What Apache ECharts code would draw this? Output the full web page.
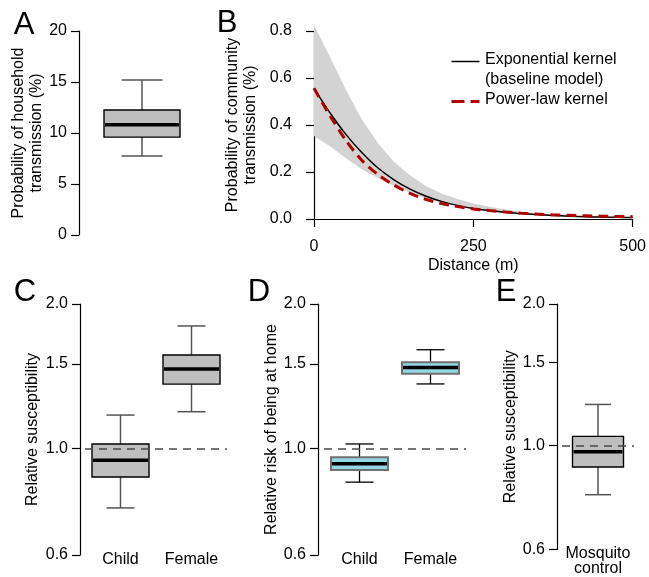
<!DOCTYPE html>
<html><head><meta charset="utf-8">
<script src="https://cdn.jsdelivr.net/npm/echarts@6/dist/echarts.min.js"></script>
<style>html,body{margin:0;padding:0;background:#fff}#c{width:649px;height:577px}</style>
</head><body><div id="c"></div>
<script>
// ---- Panel A: household transmission (box: min, q1, median, q3, max)
const householdCategory = ['household'];
const householdBox = [[7.75, 9.6, 10.8, 12.25, 15.2]];
// ---- Panel B: community transmission vs distance
const distance    = [0, 25, 50, 75, 100, 125, 150, 175, 200, 225, 250, 275, 300, 325, 350, 375, 400, 425, 450, 475, 500];
const expKernel   = [0.556, 0.452, 0.360, 0.283, 0.218, 0.168, 0.128, 0.098, 0.075, 0.058, 0.045, 0.036, 0.029, 0.023, 0.019, 0.015, 0.012, 0.010, 0.008, 0.007, 0.006];
const powerKernel = [0.556, 0.440, 0.335, 0.250, 0.190, 0.145, 0.110, 0.084, 0.066, 0.053, 0.043, 0.036, 0.030, 0.025, 0.021, 0.018, 0.016, 0.014, 0.012, 0.011, 0.010];
const bandLower   = [0.353, 0.310, 0.258, 0.212, 0.174, 0.141, 0.112, 0.088, 0.069, 0.054, 0.042, 0.033, 0.026, 0.020, 0.016, 0.013, 0.010, 0.008, 0.006, 0.005, 0.004];
const bandUpper   = [0.826, 0.690, 0.550, 0.425, 0.325, 0.245, 0.187, 0.142, 0.108, 0.085, 0.066, 0.052, 0.040, 0.031, 0.024, 0.019, 0.015, 0.012, 0.010, 0.008, 0.007];
// ---- Panel C: relative susceptibility
const susCategories = ['Child', 'Female'];
const susBoxes = [[0.752, 0.872, 0.945, 1.022, 1.174], [1.193, 1.362, 1.464, 1.566, 1.800]];
// ---- Panel D: relative risk of being at home
const homeCategories = ['Child', 'Female'];
const homeBoxes = [[0.851, 0.902, 0.930, 0.959, 1.022], [1.363, 1.432, 1.474, 1.512, 1.606]];
// ---- Panel E: mosquito control
const mosqCategories = ['Mosquito\ncontrol'];
const mosqBoxes = [[0.785, 0.899, 0.969, 1.045, 1.222]];
// ---- tick labels
const householdTicks = [0, 5, 10, 15, 20];
const probTicks = [0, 0.2, 0.4, 0.6, 0.8];
const distTicks = [0, 250, 500];
const logTicks = [0.6, 1.0, 1.5, 2.0];

const FONT = "'Liberation Sans', Arial, Helvetica, sans-serif";
const AX = { color: '#000', width: 1.2 };

function boxSeries(xi, yi, boxes, st, refLine) {
  const s = {
    type: 'custom', xAxisIndex: xi, yAxisIndex: yi, silent: true,
    data: boxes.map((b, i) => [i].concat(b)),
    encode: { x: 0, y: [1, 2, 3, 4, 5] },
    renderItem: function (params, api) {
      const c = api.value(0);
      const pMin = api.coord([c, api.value(1)]);
      const pQ1 = api.coord([c, api.value(2)]);
      const pMed = api.coord([c, api.value(3)]);
      const pQ3 = api.coord([c, api.value(4)]);
      const pMax = api.coord([c, api.value(5)]);
      const x = pMed[0], bw = st.box, cw = st.cap;
      const wS = { stroke: st.whisker, lineWidth: st.whiskerW };
      return { type: 'group', children: [
        { type: 'line', shape: { x1: x, y1: pMax[1], x2: x, y2: pQ3[1] }, style: wS },
        { type: 'line', shape: { x1: x, y1: pQ1[1], x2: x, y2: pMin[1] }, style: wS },
        { type: 'line', shape: { x1: x - cw / 2, y1: pMax[1], x2: x + cw / 2, y2: pMax[1] }, style: wS },
        { type: 'line', shape: { x1: x - cw / 2, y1: pMin[1], x2: x + cw / 2, y2: pMin[1] }, style: wS },
        { type: 'rect', shape: { x: x - bw / 2, y: pQ3[1], width: bw, height: pQ1[1] - pQ3[1] },
          style: { fill: st.fill, stroke: st.border, lineWidth: st.borderW } },
        { type: 'line', shape: { x1: x - bw / 2 + 1, y1: pMed[1], x2: x + bw / 2 - 1, y2: pMed[1] },
          style: { stroke: '#000', lineWidth: 3.5 } }
      ] };
    }
  };
  if (refLine) {
    s.markLine = { silent: true, symbol: 'none', label: { show: false },
      lineStyle: { type: [8, 6], color: '#4a4a4a', width: 1.7 }, data: [{ yAxis: 1 }] };
  }
  return s;
}

const greyBox = { box: 57, cap: 28, fill: '#bebebe', border: '#000', borderW: 1.4, whisker: '#555', whiskerW: 1.5 };
const blueBox = { box: 57, cap: 28, fill: '#93d7e3', border: '#707070', borderW: 2, whisker: '#000', whiskerW: 1.3 };

function logY(gi, name, gap, offset) {
  return {
    gridIndex: gi, type: 'log', logBase: 10, min: 0.6, max: 2, offset: offset,
    name: name, nameLocation: 'middle', nameGap: gap,
    nameTextStyle: { fontFamily: FONT, fontSize: 16, color: '#000' },
    axisLine: { show: true, lineStyle: AX },
    axisTick: { show: true, length: 8, lineStyle: AX, customValues: logTicks },
    minorTick: { show: false },
    axisLabel: { fontFamily: FONT, fontSize: 16, color: '#000', margin: 12,
      customValues: logTicks, formatter: v => Number(v).toFixed(1) },
    splitLine: { show: false }
  };
}
function catX(gi, cats) {
  return {
    gridIndex: gi, type: 'category', data: cats,
    axisLine: { show: false }, axisTick: { show: false }, splitLine: { show: false },
    axisLabel: { fontFamily: FONT, fontSize: 16, color: '#000', margin: -3, lineHeight: 15, interval: 0 }
  };
}

// band series: one polygon through lower edge (forward) and upper edge (backward)
const bandSeries = {
  type: 'custom', xAxisIndex: 1, yAxisIndex: 1, silent: true, z: 1,
  data: distance.map((d, i) => [d, bandLower[i], bandUpper[i]]),
  encode: { x: 0, y: [1, 2] },
  renderItem: function (params, api) {
    if (params.dataIndex !== 0) return null;
    const n = params.dataInsideLength;
    const pts = [];
    for (let i = 0; i < n; i++) pts.push(api.coord([api.value(0, i), api.value(1, i)]));
    for (let i = n - 1; i >= 0; i--) pts.push(api.coord([api.value(0, i), api.value(2, i)]));
    return { type: 'polygon', shape: { points: pts }, style: { fill: '#d3d3d3', stroke: null } };
  }
};

const chart = echarts.init(document.getElementById('c'), null, { renderer: 'canvas' });
chart.setOption({
  animation: false,
  backgroundColor: '#fff',
  textStyle: { fontFamily: FONT },
  grid: [
    { left: 84, top: 31, width: 116, height: 204 },
    { left: 314, top: 31, width: 320, height: 188 },
    { left: 85, top: 304, width: 142, height: 251 },
    { left: 324, top: 304, width: 142, height: 251 },
    { left: 562, top: 304, width: 72, height: 251 }
  ],
  xAxis: [
    { gridIndex: 0, type: 'category', data: householdCategory, show: false },
    { gridIndex: 1, type: 'value', min: distTicks[0], max: distTicks[distTicks.length - 1], interval: 250, offset: 8,
      name: 'Distance (m)', nameLocation: 'middle', nameGap: 31,
      nameTextStyle: { fontFamily: FONT, fontSize: 16, color: '#000' },
      axisLine: { show: true, lineStyle: AX }, axisTick: { show: true, length: 8, lineStyle: AX },
      axisLabel: { fontFamily: FONT, fontSize: 16, color: '#000', margin: 12 },
      splitLine: { show: false } },
    catX(2, susCategories),
    catX(3, homeCategories),
    catX(4, mosqCategories)
  ],
  yAxis: [
    { gridIndex: 0, type: 'value', min: householdTicks[0], max: householdTicks[householdTicks.length - 1], interval: 5, offset: 5,
      name: 'Probability of household\ntransmission (%)', nameLocation: 'middle', nameGap: 33,
      nameTextStyle: { fontFamily: FONT, fontSize: 16, color: '#000', lineHeight: 18 },
      axisLine: { show: true, lineStyle: AX }, axisTick: { show: true, length: 8, lineStyle: AX },
      axisLabel: { fontFamily: FONT, fontSize: 16, color: '#000', margin: 12 },
      splitLine: { show: false } },
    { gridIndex: 1, type: 'value', min: probTicks[0], max: probTicks[probTicks.length - 1], interval: 0.2, offset: 12,
      name: 'Probability of community\ntransmission (%)', nameLocation: 'middle', nameGap: 42,
      nameTextStyle: { fontFamily: FONT, fontSize: 16, color: '#000', lineHeight: 18 },
      axisLine: { show: true, lineStyle: AX }, axisTick: { show: true, length: 8, lineStyle: AX },
      axisLabel: { fontFamily: FONT, fontSize: 16, color: '#000', margin: 10, formatter: v => v.toFixed(1) },
      splitLine: { show: false } },
    logY(2, 'Relative susceptibility', 39, 5),
    logY(3, 'Relative risk of being at home', 34, 6),
    logY(4, 'Relative susceptibility', 36, 5)
  ],
  series: [
    boxSeries(0, 0, householdBox, { box: 76, cap: 41, fill: '#bebebe', border: '#000', borderW: 1.4, whisker: '#555', whiskerW: 1.5 }, false),
    bandSeries,
    { type: 'line', name: 'Exponential kernel', xAxisIndex: 1, yAxisIndex: 1, symbol: 'none', silent: true, z: 3,
      data: distance.map((d, i) => [d, expKernel[i]]), lineStyle: { color: '#000', width: 1.5 }, smooth: 0.3 },
    { type: 'line', name: 'Power-law kernel', xAxisIndex: 1, yAxisIndex: 1, symbol: 'none', silent: true, z: 4,
      data: distance.map((d, i) => [d, powerKernel[i]]), lineStyle: { color: '#b20000', width: 3, type: [10, 6] }, smooth: 0.3 },
    boxSeries(2, 2, susBoxes, greyBox, true),
    boxSeries(3, 3, homeBoxes, blueBox, true),
    boxSeries(4, 4, mosqBoxes, Object.assign({}, greyBox, { box: 51, cap: 26 }), true)
  ],
  graphic: [
    { type: 'line', left: 449, top: 59, shape: { x1: 0, y1: 0, x2: 28, y2: 0 }, style: { stroke: '#000', lineWidth: 1.5 } },
    { type: 'line', left: 449, top: 99, shape: { x1: 0, y1: 0, x2: 28, y2: 0 }, style: { stroke: '#b20000', lineWidth: 3, lineDash: [13, 6] } },
    { type: 'text', left: 485, top: 50, style: { text: 'Exponential kernel\n(baseline model)', font: '16px ' + FONT, fill: '#000', lineHeight: 20 } },
    { type: 'text', left: 485, top: 90, style: { text: 'Power-law kernel', font: '16px ' + FONT, fill: '#000', lineHeight: 20 } },
    { type: 'text', x: 24, y: 25, style: { text: 'A', font: '31px ' + FONT, fill: '#000', align: 'center', verticalAlign: 'middle' } },
    { type: 'text', x: 227, y: 23, style: { text: 'B', font: '31px ' + FONT, fill: '#000', align: 'center', verticalAlign: 'middle' } },
    { type: 'text', x: 25, y: 292, style: { text: 'C', font: '31px ' + FONT, fill: '#000', align: 'center', verticalAlign: 'middle' } },
    { type: 'text', x: 259, y: 292, style: { text: 'D', font: '31px ' + FONT, fill: '#000', align: 'center', verticalAlign: 'middle' } },
    { type: 'text', x: 506, y: 292, style: { text: 'E', font: '31px ' + FONT, fill: '#000', align: 'center', verticalAlign: 'middle' } }
  ]
});
</script></body></html>
